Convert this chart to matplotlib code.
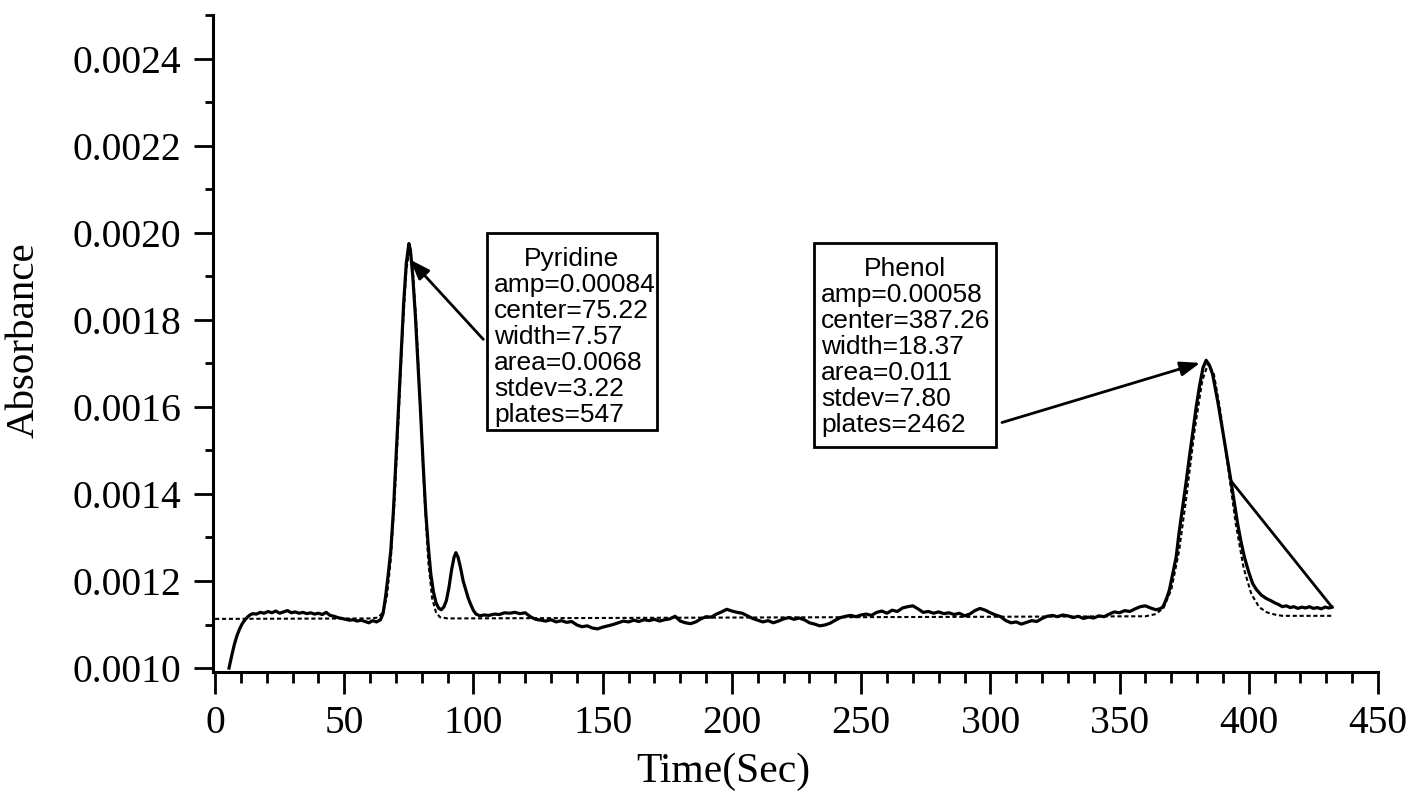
import numpy as np
import matplotlib
matplotlib.use("Agg")
import matplotlib.pyplot as plt
from matplotlib.patches import Rectangle
from matplotlib.ticker import MultipleLocator, FormatStrFormatter

# measured trace, absorbance in mAU (x1e-3 AU)
time_s = [5.4, 6.5, 7.5, 8.5, 9.5, 10.5, 11.5, 12.5, 13.5, 14.5,
          16, 17.5, 19, 20.5, 22, 23.5, 25, 26.5, 28, 29.5,
          31, 32.5, 34, 35.5, 37, 38.5, 40, 41.5, 43, 44.5,
          46, 47.5, 49, 50.5, 52, 53.5, 55, 56.5, 58, 59.5,
          61, 62.5, 64, 65, 66, 67, 68, 69, 70, 71,
          72, 73, 74, 75, 75.6, 76.5, 77.5, 78.5, 79.5, 80.5,
          81.5, 82.5, 83.5, 84.5, 85.5, 86.5, 87.5, 88.5, 89.5, 90.5,
          91.5, 92.5, 93.2, 94, 95, 96, 97, 98, 99, 100,
          101, 102.5, 104, 106, 108, 110, 112, 114, 116, 118,
          120, 122, 124, 126, 128, 130, 132, 134, 136, 138,
          140, 142, 144, 146, 148, 150, 152, 154, 156, 158,
          160, 162, 164, 166, 168, 170, 172, 174, 176, 178,
          180, 182, 184, 186, 188, 190, 192, 194, 196, 198,
          200, 202, 204, 206, 208, 210, 212, 214, 216, 218,
          220, 222, 224, 226, 228, 230, 232, 234, 236, 238,
          240, 242, 244, 246, 248, 250, 252, 254, 256, 258,
          260, 262, 264, 266, 268, 270, 272, 274, 276, 278,
          280, 282, 284, 286, 288, 290, 292, 294, 296, 298,
          300, 302, 304, 306, 308, 310, 312, 314, 316, 318,
          320, 322, 324, 326, 328, 330, 332, 334, 336, 338,
          340, 342, 344, 346, 348, 350, 352, 354, 356, 358,
          360, 362, 364, 365.5, 366.7, 367.5, 368.5, 369.3, 370.5, 371.9,
          373, 374.4, 375.7, 377, 378.3, 379.6, 381, 382.3, 383.5, 384.8,
          386, 388, 389.9, 391.5, 393.1, 394.4, 395.7, 397, 398.3, 399.9,
          401.5, 403, 404.8, 406.7, 408.5, 410, 411.5, 413, 414.5, 416,
          417.5, 419, 420.5, 422, 423.5, 425, 426.5, 428, 429.5, 431,
          432.2]
absorb_mau = [1.000, 1.030, 1.055, 1.075, 1.090, 1.102, 1.110, 1.117, 1.122, 1.125,
              1.124, 1.128, 1.126, 1.130, 1.127, 1.131, 1.126, 1.129, 1.132, 1.127,
              1.129, 1.126, 1.128, 1.125, 1.127, 1.124, 1.126, 1.123, 1.128, 1.121,
              1.119, 1.116, 1.114, 1.112, 1.110, 1.111, 1.108, 1.110, 1.107, 1.104,
              1.109, 1.106, 1.111, 1.125, 1.165, 1.215, 1.270, 1.360, 1.480, 1.600,
              1.720, 1.840, 1.930, 1.975, 1.960, 1.900, 1.810, 1.700, 1.590, 1.470,
              1.360, 1.280, 1.215, 1.175, 1.150, 1.138, 1.134, 1.140, 1.155, 1.185,
              1.225, 1.255, 1.265, 1.255, 1.230, 1.200, 1.180, 1.160, 1.145, 1.132,
              1.124, 1.120, 1.122, 1.121, 1.124, 1.123, 1.127, 1.126, 1.128, 1.125,
              1.127, 1.118, 1.112, 1.110, 1.108, 1.111, 1.106, 1.109, 1.105, 1.107,
              1.099, 1.095, 1.097, 1.092, 1.090, 1.094, 1.097, 1.100, 1.104, 1.108,
              1.106, 1.110, 1.107, 1.111, 1.109, 1.112, 1.108, 1.111, 1.113, 1.119,
              1.108, 1.104, 1.102, 1.106, 1.113, 1.118, 1.117, 1.124, 1.129, 1.135,
              1.131, 1.128, 1.126, 1.120, 1.114, 1.110, 1.106, 1.109, 1.104, 1.108,
              1.113, 1.116, 1.112, 1.115, 1.111, 1.104, 1.101, 1.097, 1.099, 1.103,
              1.110, 1.116, 1.119, 1.121, 1.118, 1.122, 1.124, 1.121, 1.128, 1.131,
              1.126, 1.133, 1.130, 1.138, 1.141, 1.143, 1.136, 1.128, 1.130, 1.126,
              1.129, 1.125, 1.127, 1.123, 1.126, 1.120, 1.124, 1.132, 1.137, 1.133,
              1.127, 1.122, 1.118, 1.109, 1.104, 1.106, 1.101, 1.105, 1.109, 1.107,
              1.114, 1.119, 1.121, 1.118, 1.122, 1.120, 1.116, 1.119, 1.114, 1.117,
              1.115, 1.120, 1.118, 1.124, 1.129, 1.127, 1.132, 1.130, 1.136, 1.141,
              1.143, 1.138, 1.134, 1.136, 1.140, 1.150, 1.165, 1.180, 1.215, 1.255,
              1.310, 1.369, 1.425, 1.484, 1.540, 1.598, 1.650, 1.690, 1.707, 1.695,
              1.675, 1.612, 1.545, 1.487, 1.430, 1.380, 1.331, 1.290, 1.255, 1.222,
              1.194, 1.180, 1.168, 1.160, 1.155, 1.150, 1.146, 1.141, 1.143, 1.139,
              1.141, 1.137, 1.140, 1.138, 1.141, 1.137, 1.139, 1.136, 1.140, 1.138,
              1.140]

# fitted curve (dotted)
fit_time = [0, 60, 63, 65, 66.5, 68, 69.5, 71, 72.5, 74, 75.2, 76.5, 78, 79.5,
            81, 82.5, 84, 85.5, 87, 90, 360, 364, 367, 370, 373, 376, 379, 382,
            384.3, 386.5, 389, 392, 395, 398, 401, 404, 407, 410, 413, 432.5]
fit_mau = [1.113, 1.114, 1.116, 1.128, 1.165, 1.250, 1.390, 1.575, 1.765, 1.915,
           1.960, 1.915, 1.780, 1.590, 1.400, 1.245, 1.160, 1.128, 1.117, 1.114,
           1.119, 1.124, 1.138, 1.180, 1.268, 1.400, 1.545, 1.660, 1.700, 1.675,
           1.590, 1.460, 1.330, 1.230, 1.170, 1.140, 1.128, 1.123, 1.120, 1.120]

# straight tail line at the phenol peak
tail_time = [393.5, 432.2]
tail_mau = [1.427, 1.140]

peak_names = ["Pyridine", "Phenol"]
peak_stats = [
    ["amp=0.00084", "center=75.22", "width=7.57", "area=0.0068", "stdev=3.22", "plates=547"],
    ["amp=0.00058", "center=387.26", "width=18.37", "area=0.011", "stdev=7.80", "plates=2462"],
]
arrow_tip = [(75.5, 1.938), (381.2, 1.701)]
arrow_tail = [(103.8, 1.755), (304.5, 1.564)]
# box corners in figure pixels (left, top, right, bottom)
box_px = [(487, 233, 657, 430), (814, 243, 996, 447)]

W, H = 1408, 795
fig = plt.figure(figsize=(W / 100, H / 100), dpi=100)
ax = fig.add_axes([213 / W, 1 - 672 / H, (1378 - 213) / W, (672 - 15) / H])

t = np.array(time_s)
a = np.array(absorb_mau) / 1000
ax.plot(np.array(fit_time), np.array(fit_mau) / 1000, color="black", lw=1.5,
        ls=(0, (2, 1.3)), zorder=2)
ax.plot(t, a, color="black", lw=2.3, zorder=3)
ax.plot(np.array(tail_time), np.array(tail_mau) / 1000, color="black", lw=2.0, zorder=3)

ax.set_xlim(-0.8, 450)
ax.set_ylim(0.000991, 0.0025)
ax.xaxis.set_major_locator(MultipleLocator(50))
ax.xaxis.set_minor_locator(MultipleLocator(10))
ax.yaxis.set_major_locator(MultipleLocator(0.0002))
ax.yaxis.set_minor_locator(MultipleLocator(0.0001))
ax.yaxis.set_major_formatter(FormatStrFormatter("%.4f"))
ax.set_yticks(np.arange(0.0010, 0.00241, 0.0002))

serif = "Liberation Serif"
for s in ["top", "right"]:
    ax.spines[s].set_visible(False)
for s in ["left", "bottom"]:
    ax.spines[s].set_linewidth(2.2)
ax.tick_params(axis="x", which="major", length=16, width=2, direction="out", pad=8)
ax.tick_params(axis="x", which="minor", length=8, width=2, direction="out")
ax.tick_params(axis="y", which="major", length=14, width=2, direction="out", pad=9)
ax.tick_params(axis="y", which="minor", length=6, width=2, direction="out")
for lab in ax.get_xticklabels() + ax.get_yticklabels():
    lab.set_fontfamily(serif)
    lab.set_fontsize(28.5)

ax.set_xlabel("Time(Sec)", fontfamily=serif, fontsize=30)
ax.set_ylabel("Absorbance", fontfamily=serif, fontsize=29.5)
ax.xaxis.set_label_coords(0.438, -0.122)
ax.yaxis.set_label_coords(-0.146, 0.505)

# annotation boxes
for name, stats, (x0, y0, x1, y1) in zip(peak_names, peak_stats, box_px):
    fig.patches.append(Rectangle((x0 / W, 1 - y1 / H), (x1 - x0) / W, (y1 - y0) / H,
                                 transform=fig.transFigure, fill=True, fc="white",
                                 ec="black", lw=2, zorder=5))
    base = y0 + 33
    fig.text((x0 + x1) / 2 / W, 1 - base / H, name, ha="center", va="baseline",
             fontfamily="Liberation Sans", fontsize=19, zorder=6)
    for i, line in enumerate(stats):
        fig.text((x0 + 7) / W, 1 - (base + 26 * (i + 1)) / H, line, ha="left",
                 va="baseline", fontfamily="Liberation Sans", fontsize=19, zorder=6)

for (tx, ty), (sx, sy) in zip(arrow_tip, arrow_tail):
    ax.annotate("", xy=(tx, ty / 1000), xytext=(sx, sy / 1000),
                arrowprops=dict(arrowstyle="-|>,head_length=0.6,head_width=0.22",
                                mutation_scale=20, color="black", lw=2,
                                shrinkA=0, shrinkB=0))

fig.savefig("out.png", dpi=100)
